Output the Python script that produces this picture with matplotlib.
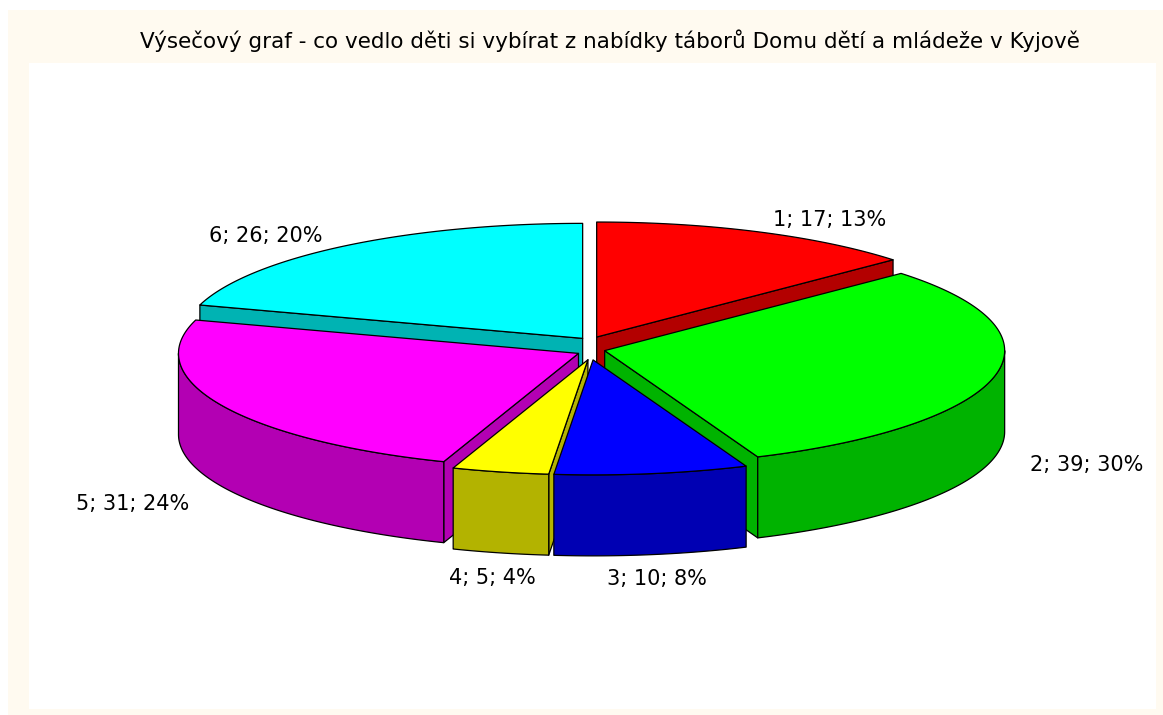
import numpy as np
import matplotlib
matplotlib.use("Agg")
from matplotlib import pyplot as plt
from matplotlib.patches import Polygon, Rectangle

plt.rcParams['font.family'] = ['DejaVu Sans']

title = "Výsečový graf - co vedlo děti si vybírat z nabídky táborů Domu dětí a mládeže v Kyjově"
categories = ['1', '2', '3', '4', '5', '6']
counts = [17, 39, 10, 5, 31, 26]
top_colors = ['#FF0000', '#00FF00', '#0000FF', '#FFFF00', '#FF00FF', '#00FFFF']
side_colors = ['#B30000', '#00B300', '#0000B3', '#B3B300', '#B300B3', '#00B3B3']

# pie geometry (pixels)
cx, cy = 591, 348
rx, ry = 400, 115
h = 81
ex, ey = 14, 12

fig = plt.figure(figsize=(11.63, 7.15), dpi=100)
ax = fig.add_axes([0, 0, 1, 1])
ax.set_xlim(0, 1163)
ax.set_ylim(715, 0)
ax.axis('off')

ax.add_patch(Rectangle((8, 10), 1155, 705, facecolor='#FFFAF0', edgecolor='none', zorder=0))
ax.add_patch(Rectangle((29, 63), 1127, 646, facecolor='white', edgecolor='none', zorder=0))

ax.text(610, 41, title, fontsize=15.5, ha='center', va='center')


def rim(a, ox, oy, dz=0):
    return np.column_stack([cx + ox + rx * np.cos(a), cy + oy - ry * np.sin(a) + dz])


total = sum(counts)
cum = np.concatenate([[0], np.cumsum(counts)])
slices = []
for i, c in enumerate(counts):
    a0 = np.radians(90 - 360 * cum[i] / total)
    a1 = np.radians(90 - 360 * cum[i + 1] / total)
    m = (a0 + a1) / 2
    slices.append((i, a0, a1, m))

# far slices first
for i, a0, a1, m in sorted(slices, key=lambda s: -np.sin(s[3])):
    ox, oy = ex * np.cos(m), -ey * np.sin(m)
    tip = np.array([[cx + ox, cy + oy]])
    kw = dict(edgecolor='black', linewidth=0.9, joinstyle='round')

    # radial cut faces
    for a, vis in ((a1, np.cos(a1) > 1e-6), (a0, np.cos(a0) < -1e-6)):
        if vis:
            p = rim(np.array([a]), ox, oy)
            face = np.vstack([tip, p, p + [0, h], tip + [0, h]])
            ax.add_patch(Polygon(face, closed=True, facecolor=side_colors[i], **kw))

    # outer side (front half only)
    lo, hi = max(a1, -np.pi), min(a0, 0.0)
    if hi > lo:
        t = np.linspace(lo, hi, 120)
        side = np.vstack([rim(t, ox, oy), rim(t[::-1], ox, oy, h)])
        ax.add_patch(Polygon(side, closed=True, facecolor=side_colors[i], **kw))

    # top face
    t = np.linspace(a1, a0, 200)
    top = np.vstack([tip, rim(t, ox, oy)])
    ax.add_patch(Polygon(top, closed=True, facecolor=top_colors[i], **kw))

# labels
for i, a0, a1, m in slices:
    pct = round(100 * counts[i] / total)
    s = np.sin(m)
    lx = cx + 450 * np.cos(m)
    ly = cy - 140 * s
    if s < 0:
        ly += h + 12 * min(1, -2.2 * s)
    if np.cos(m) > 0.3:
        ha = 'left'
    elif np.cos(m) < -0.3:
        ha = 'right'
    else:
        ha = 'center'
    ax.text(lx, ly, f"{categories[i]}; {counts[i]}; {pct}%", fontsize=15,
            ha=ha, va='center')

fig.savefig('out.png', dpi=100)
